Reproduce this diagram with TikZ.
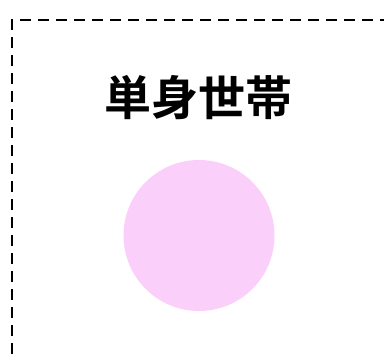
\documentclass[tikz,border=0pt]{standalone}
\usepackage{fontspec}
\newfontfamily\cjk{Noto Sans CJK JP Bold}
\usepackage{tikz}
\usetikzlibrary{calc}
\definecolor{softpink}{RGB}{250,208,250}

\begin{document}
\begin{tikzpicture}[x=1pt,y=1pt,yscale=-1]
        \useasboundingbox (0,0) rectangle (384,356);
        \clip (0,0) rectangle (384,356);

        % Dashed frame (runs off the right and bottom edges)
        \draw [line width=2.4, dash pattern=on 11 off 7] (12,372) -- (12,20) -- (400,20) ;

        % Text Node
        \node (title) at (198.5,97.5) [inner sep=0.75pt]{%
            \cjk\fontsize{47}{50}\selectfont 単身世帯
        };

        % Shape: Circle
        \node (dot) at (199,235.5) [circle, fill=softpink, draw=none, minimum size=151, inner sep=0] {};
\end{tikzpicture}
\end{document}
